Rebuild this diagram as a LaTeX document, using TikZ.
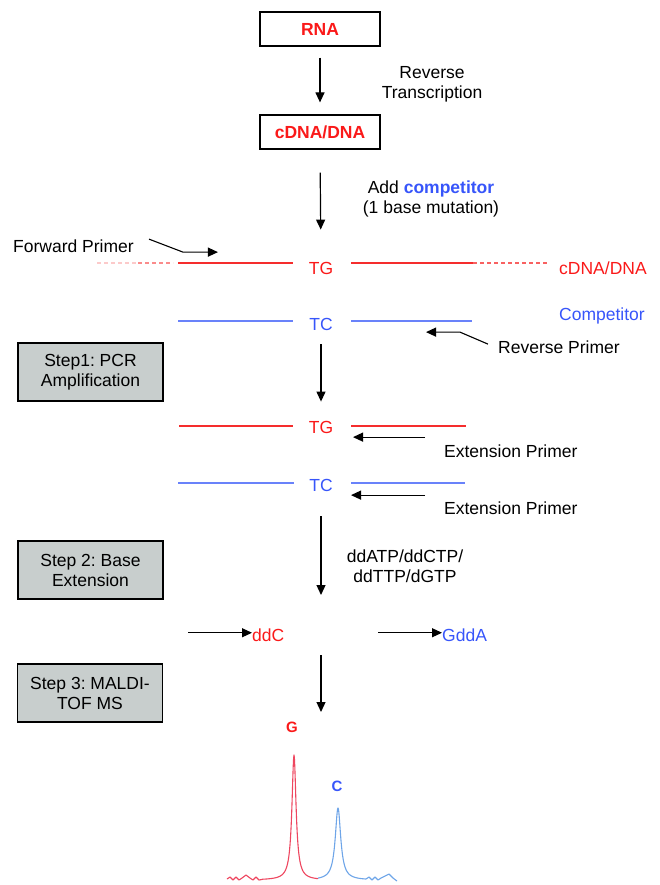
\documentclass[tikz,border=0pt]{standalone}
\usepackage{fontspec}
\setmainfont{Liberation Sans}
\usepackage{tikz}
\usetikzlibrary{arrows.meta,calc,positioning}
\definecolor{dnared}{RGB}{250,25,25}
\definecolor{compblue}{RGB}{55,85,250}
\definecolor{strandred}{RGB}{245,45,45}
\definecolor{strandblue}{RGB}{105,130,250}
\definecolor{stepgray}{RGB}{200,206,205}
\definecolor{peakred}{RGB}{238,70,95}
\definecolor{peakblue}{RGB}{110,165,232}
\tikzset{
  tubebox/.style={draw, line width=1.2pt, minimum width=120pt, minimum height=34pt,
    text=dnared, font=\bfseries\fontsize{17.5}{20}\selectfont},
  stepbox/.style={draw, line width=1.2pt, fill=stepgray, minimum width=145pt,
    minimum height=58pt, align=center},
  flow/.style={-{Triangle[width=9pt,length=10pt]}, line width=1.2pt},
  primer/.style={-{Triangle[width=9pt,length=10pt]}, line width=1.1pt},
  allele/.style={inner sep=0pt, anchor=base},
  tag/.style={inner sep=0pt, anchor=base west},
  redline/.style={draw=strandred, line width=1.2pt},
  blueline/.style={draw=strandblue, line width=1.2pt},
  tail/.style={line width=1.2pt, dash pattern=on 4pt off 3pt}
}
\frenchspacing
\begin{document}
\begin{tikzpicture}[x=1pt, y=-1pt, font=\fontsize{17.5}{20}\selectfont]
\useasboundingbox (0,0) rectangle (659,885);

% RNA -> cDNA
\node[tubebox] (rna) at (320,29) {RNA};
\node[tubebox] (cdna) at (320,132) {cDNA/DNA};
\node[align=center] (rt) at (432,84) {Reverse\\Transcription};
\draw[flow, shorten <=11pt, shorten >=12pt] (rna.south) -- (cdna.north);
\node[align=center] (addc) at (431,199) {Add {\bfseries\color{compblue}competitor}\\(1 base mutation)};

% template and competitor
\node[allele, text=dnared] (tg1) at (321,274) {TG};
\node[allele, text=compblue] (tc1) at (321,330) {TC};
\draw[flow, shorten <=23pt, shorten >=32pt] (cdna.south) -- (tg1.north);
\draw[redline] (178,263) -- (293,263) (351,263) -- (473,263);
\draw[tail, draw=strandred!75] (473,263) -- (547,263);
\draw[tail, draw=strandred!25] (97,263) -- (138,263);
\draw[tail, draw=strandred!55] (138,263) -- (173,263);
\draw[blueline] (178,321) -- (293,321) (351,321) -- (472,321);
\node[tag, text=dnared] (dnalbl) at (559,274) {cDNA/DNA};
\node[tag, text=compblue] (complbl) at (559,320) {Competitor};

\node[tag] (fwd) at (13,252) {Forward Primer};
\draw[primer] ([xshift=15pt]fwd.north east) -- ++(34,13) -- ++(35,0);
\node[tag] (rev) at (498,353) {Reverse Primer};
\draw[primer] ($(rev.north west)+(-10,4)$) -- ++(-28,-12) -- ++(-34,0);

% step 1
\node[stepbox] (s1) at (90.5,372) {Step1: PCR\\Amplification};
\node[allele, text=dnared] (tg2) at (321,433) {TG};
\node[allele, text=compblue] (tc2) at (321,491) {TC};
\draw[flow, shorten <=14pt, shorten >=19pt] (tc1.south) -- (tg2.north);
\draw[redline] (179,426) -- (293,426) (351,426) -- (466,426);
\draw[blueline] (178,483) -- (294,483) (351,483) -- (465,483);
\node[tag] (ext1) at (444,457) {Extension Primer};
\node[tag] (ext2) at (444,514) {Extension Primer};
\draw[primer] ($(ext1.north west)+(-19,-7)$) -- ++(-72,0);
\draw[primer] ($(ext2.north west)+(-19,-6)$) -- ++(-74,0);

% step 2
\node[stepbox] (s2) at (90.5,570) {Step 2: Base\\Extension};
\node[align=center] (nuc) at (405,566) {ddATP/ddCTP/\\ddTTP/dGTP};
\coordinate (a4e) at (321,595);
\draw[flow, shorten <=25pt] (tc2.south) -- (a4e);
\node[tag, text=dnared] (ddc) at (252,641) {ddC};
\node[tag, text=compblue] (gdda) at (442,641) {GddA};
\draw[primer] ($(ddc.west)+(-64,-2)$) -- ([yshift=2pt]ddc.west);
\draw[primer] ($(gdda.west)+(-64,-2)$) -- ([yshift=2pt]gdda.west);

% step 3
\node[stepbox] (s3) at (90,693) {Step 3: MALDI-\\TOF MS};
\coordinate (a5s) at (321,655);
\coordinate (a5e) at (321,712);
\draw[flow] (a5s) -- (a5e);
\node[font=\bfseries\fontsize{15}{18}\selectfont, text=dnared] (gpk) at (292,727) {G};
\node[font=\bfseries\fontsize{15}{18}\selectfont, text=compblue] (cpk) at (337,786) {C};

% spectrum
\draw[peakred, line width=1.1pt, line join=round]
  (227,879) -- (230,877) -- (233,880) -- (236,877) -- (239,880) -- (242,878)
  -- (246,875) -- (250,878) -- (253,880) -- (256,877) -- (259,880) -- (262,879.5)
  -- plot[domain=262:318, samples=141] (\x, {880-125/(1+((\x-294)/2.5)^2)});
\draw[peakblue, line width=1.1pt, line join=round]
  plot[domain=318:366, samples=121] (\x, {880-72/(1+((\x-338)/3.3)^2)})
  -- (369,877) -- (372,880) -- (375,877) -- (378,880) -- (381,878)
  -- (385,876) -- (389,874) -- (393,878) -- (397,881);
\end{tikzpicture}
\end{document}
